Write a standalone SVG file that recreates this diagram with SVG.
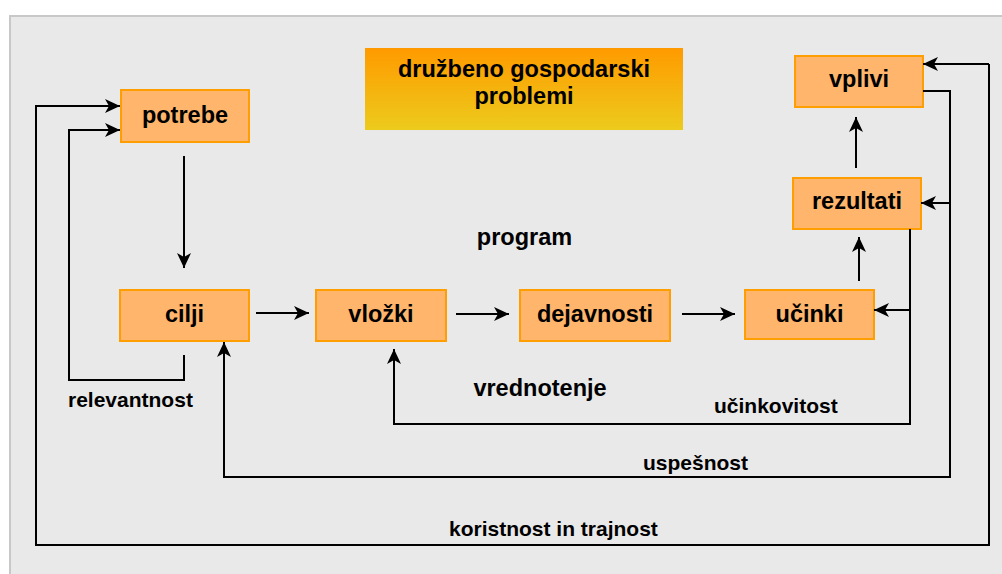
<svg xmlns="http://www.w3.org/2000/svg" width="1002" height="574" viewBox="0 0 1002 574">
  <defs>
    <linearGradient id="titleGrad" x1="0" y1="0" x2="0" y2="1">
      <stop offset="0" stop-color="#FF9A00"/>
      <stop offset="1" stop-color="#ECCB1C"/>
    </linearGradient>
    <marker id="arr" markerUnits="userSpaceOnUse" markerWidth="16" markerHeight="14" refX="15" refY="7" orient="auto" viewBox="0 0 16 14">
      <path d="M0,0 L15,7 L0,14 L4,7 Z" fill="#000"/>
    </marker>
    <style>
      .node rect { fill: #FFB56B; stroke: #FF9E00; stroke-width: 2; }
      .ntext { font-family: "Liberation Sans", Arial, sans-serif; font-weight: bold; font-size: 23.5px; fill: #000; text-anchor: middle; }
      .ltext { font-family: "Liberation Sans", Arial, sans-serif; font-weight: bold; font-size: 21px; fill: #000; }
      .btext { font-family: "Liberation Sans", Arial, sans-serif; font-weight: bold; font-size: 23.5px; fill: #000; text-anchor: middle; }
      .conn { fill: none; stroke: #000; stroke-width: 2; }
    </style>
  </defs>

  <rect x="0" y="0" width="1002" height="574" fill="#FFFFFF"/>
  <rect x="10" y="16" width="1000" height="570" fill="#E9E9E9" stroke="#C8C8C8" stroke-width="2"/>

  <g id="title">
    <rect x="365" y="48" width="318" height="82" fill="url(#titleGrad)"/>
    <text class="btext" x="524" y="77">družbeno gospodarski</text>
    <text class="btext" x="524" y="104">problemi</text>
  </g>

  <g id="potrebe" class="node">
    <rect x="121" y="90" width="128" height="52"/>
    <text class="ntext" x="185" y="123">potrebe</text>
  </g>
  <g id="cilji" class="node">
    <rect x="120" y="290" width="129" height="51"/>
    <text class="ntext" x="184.5" y="322">cilji</text>
  </g>
  <g id="vlozki" class="node">
    <rect x="316" y="290" width="130" height="51"/>
    <text class="ntext" x="381" y="322">vložki</text>
  </g>
  <g id="dejavnosti" class="node">
    <rect x="520" y="290" width="150" height="51"/>
    <text class="ntext" x="595" y="322">dejavnosti</text>
  </g>
  <g id="ucinki" class="node">
    <rect x="745" y="290" width="129" height="49"/>
    <text class="ntext" x="809.5" y="322">učinki</text>
  </g>
  <g id="rezultati" class="node">
    <rect x="793" y="178" width="128" height="51"/>
    <text class="ntext" x="857" y="209">rezultati</text>
  </g>
  <g id="vplivi" class="node">
    <rect x="795" y="56" width="128" height="51"/>
    <text class="ntext" x="859" y="87">vplivi</text>
  </g>

  <g id="labels">
    <text class="btext" x="524.5" y="245">program</text>
    <text class="btext" x="540" y="396">vrednotenje</text>
    <text class="ltext" x="68" y="407">relevantnost</text>
    <text class="ltext" x="714" y="413">učinkovitost</text>
    <text class="ltext" x="643" y="470">uspešnost</text>
    <text class="ltext" x="449" y="536">koristnost in trajnost</text>
  </g>

  <g id="connectors">
    <path class="conn" d="M184,156 V268" marker-end="url(#arr)"/>
    <path class="conn" d="M256,313 H309" marker-end="url(#arr)"/>
    <path class="conn" d="M456,314 H509" marker-end="url(#arr)"/>
    <path class="conn" d="M682,314 H735" marker-end="url(#arr)"/>
    <path class="conn" d="M859,281 V237" marker-end="url(#arr)"/>
    <path class="conn" d="M856,168 V117" marker-end="url(#arr)"/>
    <!-- relevantnost -->
    <path class="conn" d="M184,355 V380 H69 V130 H120" marker-end="url(#arr)"/>
    <!-- ucinkovitost -->
    <path class="conn" d="M910,229 V424 H394 V349" marker-end="url(#arr)"/>
    <path class="conn" d="M910,310 H874" marker-end="url(#arr)"/>
    <!-- uspesnost -->
    <path class="conn" d="M923,91 H950 V477 H224 V342" marker-end="url(#arr)"/>
    <path class="conn" d="M950,203 H921" marker-end="url(#arr)"/>
    <!-- koristnost in trajnost -->
    <path class="conn" d="M989,64 V545 H36 V106 H120" marker-end="url(#arr)"/>
    <path class="conn" d="M989,64 H923" marker-end="url(#arr)"/>
  </g>
</svg>
